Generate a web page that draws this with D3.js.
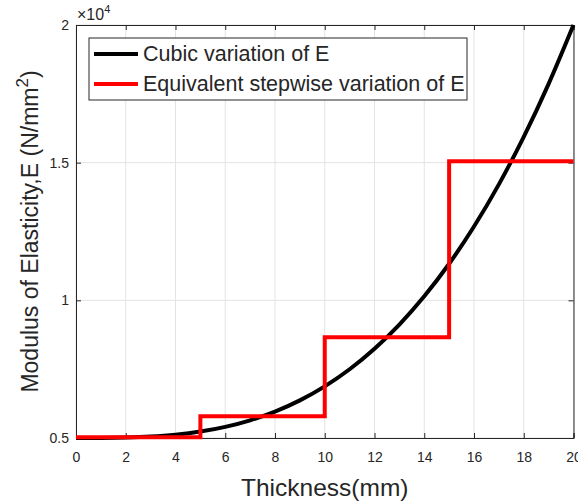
<!DOCTYPE html>
<html>
<head>
<meta charset="utf-8">
<script src="https://cdn.jsdelivr.net/npm/d3@7"></script>
<style>
  body { margin: 0; background: #fff; }
  text { font-family: "Liberation Sans", Arial, Helvetica, sans-serif; fill: #262626; }
</style>
</head>
<body>
<div id="chartdiv"></div>
<script>
/* --- data --- */

// thickness (mm) and cubic E values
let thickness = [0,1,2,3,4,5,6,7,8,9,10,11,12,13,14,15,16,17,18,19,20]
let cubicE = [5000,5002,5015,5051,5120,5234,5405,5643,5960,6367,6875,
              7496,8240,9119,10145,11328,12680,14212,15935,17861,20000]

// stepwise E: layer edges and level in each layer
let stepEdges = [0, 5, 10, 15, 20]
let stepE = [5030, 5790, 8660, 15050]

let xTicks = [0,2,4,6,8,10,12,14,16,18,20]
let yTicks = [5000, 10000, 15000, 20000]
let yTickLabels = ["0.5", "1", "1.5", "2"]

let seriesNames = ["Cubic variation of E", "Equivalent stepwise variation of E"]
let seriesColors = ["#000000", "#ff0000"]

/* -------------------- */

let width = 578
let height = 502
let leftMargin = 76
let rightMargin = 4.5
let topMargin = 25
let bottomMargin = 64
let plotW = width - leftMargin - rightMargin
let plotH = height - topMargin - bottomMargin
let axisColor = "#262626"

function drawChart(){
   let svg = d3.select('#chartdiv')
      .append('svg')
      .attr("width", width)
      .attr("height", height)

   let xscale = d3.scaleLinear().domain([0, 20]).range([0, plotW])
   let yscale = d3.scaleLinear().domain([5000, 20000]).range([plotH, 0])

   let g = svg.append("g")
      .attr("transform", `translate(${leftMargin}, ${topMargin})`)

   // grid
   g.append("g").selectAll("line").data(xTicks).join("line")
      .attr("x1", d => xscale(d)).attr("x2", d => xscale(d))
      .attr("y1", 0).attr("y2", plotH)
      .attr("stroke", "#e3e3e3").attr("stroke-width", 1)
   g.append("g").selectAll("line").data(yTicks).join("line")
      .attr("x1", 0).attr("x2", plotW)
      .attr("y1", d => yscale(d)).attr("y2", d => yscale(d))
      .attr("stroke", "#e3e3e3").attr("stroke-width", 1)

   // axes (MATLAB style, ticks pointing in, box on)
   let x_axis = d3.axisBottom(xscale).tickValues(xTicks).tickSize(-5).tickPadding(14)
   let y_axis = d3.axisLeft(yscale).tickValues(yTicks).tickSize(-5).tickPadding(7)
      .tickFormat((d, i) => yTickLabels[i])
   let gx = g.append("g").attr("transform", `translate(0, ${plotH})`).call(x_axis)
   let gy = g.append("g").call(y_axis)
   let gt = g.append("g").call(d3.axisTop(xscale).tickValues(xTicks).tickSize(-5).tickFormat(""))
   let gr = g.append("g").attr("transform", `translate(${plotW}, 0)`)
      .call(d3.axisRight(yscale).tickValues(yTicks).tickSize(-5).tickFormat(""))
   for (let a of [gx, gy, gt, gr]) {
      a.select(".domain").attr("stroke", axisColor)
      a.selectAll(".tick line").attr("stroke", axisColor)
      a.selectAll("text").attr("font-size", 14)
         .style("font-family", "Liberation Sans, Arial, sans-serif").attr("fill", axisColor)
   }

   // stepwise series
   let stepPts = []
   stepE.forEach((v, i) => {
      stepPts.push([stepEdges[i], v])
      stepPts.push([stepEdges[i + 1], v])
   })
   let line = d3.line().x(d => xscale(d[0])).y(d => yscale(d[1]))

   // cubic series
   g.append("path")
      .datum(thickness.map((t, i) => [t, cubicE[i]]))
      .attr("d", line.curve(d3.curveMonotoneX))
      .attr("fill", "none").attr("stroke", seriesColors[0]).attr("stroke-width", 4)

   g.append("path")
      .datum(stepPts)
      .attr("d", d3.line().x(d => xscale(d[0])).y(d => yscale(d[1])))
      .attr("fill", "none").attr("stroke", seriesColors[1]).attr("stroke-width", 4)
      .attr("stroke-linejoin", "miter")

   // exponent label
   let ex = svg.append("text").attr("x", leftMargin + 1).attr("y", 20).attr("font-size", 16)
   ex.append("tspan").text("\u00d710")
   ex.append("tspan").attr("font-size", 11).attr("dy", -7).text("4")

   // axis labels
   svg.append("text")
      .attr("x", leftMargin + plotW / 2).attr("y", 496)
      .attr("text-anchor", "middle").attr("font-size", 24.5)
      .text("Thickness(mm)")
   let yl = svg.append("text")
      .attr("transform", `translate(38, ${topMargin + plotH / 2}) rotate(-90)`)
      .attr("text-anchor", "middle").attr("font-size", 23)
   yl.append("tspan").text("Modulus of Elasticity,E (N/mm")
   yl.append("tspan").attr("font-size", 17).attr("dy", -10).text("2")
   yl.append("tspan").attr("dy", 10).text(")")

   // legend
   let lg = svg.append("g").attr("transform", "translate(89, 38)")
   lg.append("rect").attr("width", 378).attr("height", 62)
      .attr("fill", "#fff").attr("stroke", axisColor).attr("stroke-width", 1)
   seriesNames.forEach((name, i) => {
      let yy = 16 + i * 30
      lg.append("line").attr("x1", 5).attr("x2", 49).attr("y1", yy).attr("y2", yy)
         .attr("stroke", seriesColors[i]).attr("stroke-width", 4)
      lg.append("text").attr("x", 54).attr("y", yy + 7).attr("font-size", 21.5).text(name)
   })
}
drawChart()
</script>
</body>
</html>
